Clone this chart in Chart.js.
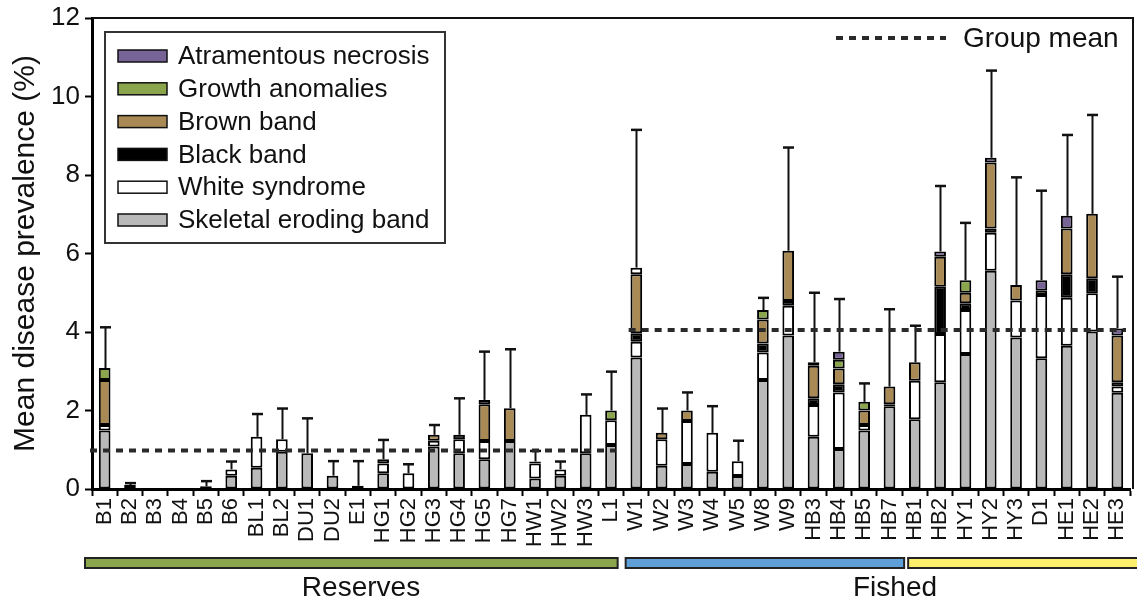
<!DOCTYPE html>
<html>
<head>
<meta charset="utf-8">
<script src="https://cdn.jsdelivr.net/npm/chart.js@4.4.1/dist/chart.umd.min.js"></script>
<style>
  html, body { margin: 0; padding: 0; background: #fff; }
  #wrap { width: 1137px; height: 602px; }
</style>
</head>
<body>
<div id="wrap"><canvas id="x-chart" width="1137" height="602"></canvas></div>
<script>
// sites, left to right
var sites = ["B1","B2","B3","B4","B5","B6","BL1","BL2","DU1","DU2","E1","HG1","HG2","HG3","HG4","HG5","HG7","HW1","HW2","HW3","L1",
             "W1","W2","W3","W4","W5","W8","W9","HB3","HB4","HB5","HB7",
             "HB1","HB2","HY1","HY2","HY3","D1","HE1","HE2","HE3"];

// prevalence (%) per disease, one value per site
var skeletal = [1.49,0,0,0,0,0.34,0.54,0.95,0.91,0.34,0,0.40,0,1.08,0.91,0.76,1.22,0.27,0.34,0.91,1.12,
                3.35,0.59,0.64,0.44,0.33,2.78,3.91,1.33,1.02,1.49,2.11,
                1.78,2.72,3.44,5.56,3.86,3.33,3.65,4.01,2.45];
var whiteSyn = [0.14,0.10,0,0,0,0.16,0.79,0.32,0,0,0,0.25,0.40,0.15,0.36,0.46,0,0.38,0.16,0.98,0.63,
                0.40,0.68,1.09,0.99,0.38,0.70,0.76,0.81,1.44,0.14,0.05,
                0.98,1.23,1.12,0.97,0.94,1.61,1.22,0.98,0.16];
var blackBand = [0,0,0,0,0.07,0,0,0,0,0,0.08,0,0,0,0.11,0,0,0.05,0,0,0,
                 0.22,0,0,0,0,0.23,0.12,0.17,0.21,0,0,
                 0,1.20,0.17,0.11,0,0,0.60,0.38,0.11];
var brownBand = [1.15,0,0,0,0,0,0,0,0,0,0,0.11,0,0.15,0,0.94,0.84,0,0,0,0,
                 1.50,0.16,0.27,0,0,0.61,1.28,0.83,0.40,0.37,0.45,
                 0.47,0.77,0.27,1.68,0.40,0.11,1.17,1.64,1.19];
var growth = [0.30,0,0,0,0,0,0,0,0,0,0,0,0,0,0,0,0,0,0,0,0.25,
              0,0,0,0,0,0.24,0,0.09,0.22,0.22,0,
              0,0,0.32,0,0,0,0,0,0];
var atramentous = [0,0,0,0,0,0,0,0,0,0,0,0,0,0,0,0.11,0,0,0,0,0,
                   0,0,0,0,0,0,0,0,0.21,0,0,
                   0,0.13,0,0.12,0,0.27,0.32,0,0.18];
// thin white cap on W1
var whiteTop = [0,0,0,0,0,0,0,0,0,0,0,0,0,0,0,0,0,0,0,0,0,
                0.17,0,0,0,0,0,0,0,0,0,0,
                0,0,0,0,0,0,0,0,0];

// top of the error bars (%)
var errTop = [4.12,0.15,0,0,0.20,0.70,1.91,2.05,1.80,0.71,0.71,1.25,0.63,1.63,2.31,3.50,3.56,0.97,0.70,2.41,2.99,
              9.15,2.05,2.46,2.11,1.23,4.87,8.70,5.00,4.84,2.69,4.58,
              4.16,7.72,6.78,10.66,7.94,7.60,9.02,9.53,5.41];

// groups
var groupNames = ["Reserves", "Fished"];
var groupFirst = [0, 21];
var groupLast = [20, 40];
var groupMeans = [0.98, 4.05];
var bandFirst = [0, 21, 32];
var bandLast = [20, 31, 40];
var bandColors = ["#8aa54b", "#5f9fd8", "#fdee6c"];

var yTicks = [0, 2, 4, 6, 8, 10, 12];

var FONT = "'Liberation Sans', Arial, Helvetica, sans-serif";

function nz(arr) { return arr.map(function (v) { return v > 0 ? v : null; }); }

var series = [
  { label: "Skeletal eroding band", data: skeletal, color: "#b9b9b9" },
  { label: "White syndrome", data: whiteSyn, color: "#ffffff" },
  { label: "Black band", data: blackBand, color: "#000000" },
  { label: "Brown band", data: brownBand, color: "#a98a55" },
  { label: "Growth anomalies", data: growth, color: "#8aa54b" },
  { label: "Atramentous necrosis", data: atramentous, color: "#776396" },
  { label: "", data: whiteTop, color: "#ffffff", hidden: true }
];

var datasets = series.map(function (s) {
  return {
    label: s.label,
    data: nz(s.data),
    backgroundColor: s.color,
    borderColor: "#000",
    borderWidth: 2,
    borderSkipped: false,
    barPercentage: 0.46,
    categoryPercentage: 1.0,
    noLegend: !!s.hidden
  };
});

var extras = {
  id: "extras",
  afterDatasetsDraw: function (chart) {
    var ctx = chart.ctx, x = chart.scales.x, y = chart.scales.y;
    var half = (x.getPixelForValue(1) - x.getPixelForValue(0)) / 2;
    ctx.save();
    // error bars
    ctx.strokeStyle = "#111";
    for (var i = 0; i < sites.length; i++) {
      if (!errTop[i]) continue;
      var tot = 0;
      series.forEach(function (s) { tot += s.data[i]; });
      var px = Math.round(x.getPixelForValue(i)) + 0.5;
      var yb = y.getPixelForValue(tot), yt = y.getPixelForValue(errTop[i]);
      ctx.lineWidth = 2;
      ctx.beginPath(); ctx.moveTo(px, yb); ctx.lineTo(px, yt); ctx.stroke();
      ctx.lineWidth = 2.5;
      ctx.beginPath(); ctx.moveTo(px - 5.5, yt); ctx.lineTo(px + 5.5, yt); ctx.stroke();
    }
    // group means
    ctx.strokeStyle = "#2a2a2a";
    ctx.lineWidth = 4;
    ctx.setLineDash([7, 6]);
    for (var g = 0; g < groupNames.length; g++) {
      var x0 = x.getPixelForValue(groupFirst[g]) - half + (g === 0 ? -2 : 5);
      var x1 = x.getPixelForValue(groupLast[g]) + half - (g === 0 ? 8 : 4);
      var gy = y.getPixelForValue(groupMeans[g]);
      ctx.beginPath(); ctx.moveTo(x0, gy); ctx.lineTo(x1, gy); ctx.stroke();
    }
    ctx.setLineDash([]);
    ctx.restore();
  },
  afterDraw: function (chart) {
    var ctx = chart.ctx, x = chart.scales.x, ca = chart.chartArea;
    var half = (x.getPixelForValue(1) - x.getPixelForValue(0)) / 2;
    ctx.save();
    // top and right frame
    ctx.strokeStyle = "#111";
    ctx.lineWidth = 2;
    ctx.beginPath();
    ctx.moveTo(ca.left, ca.top); ctx.lineTo(ca.right + 3, ca.top); ctx.lineTo(ca.right + 3, ca.bottom);
    ctx.stroke();

    // legend box
    ctx.lineWidth = 2;
    ctx.strokeStyle = "#333";
    ctx.strokeRect(105, 32, 340, 211);
    var items = datasets.filter(function (d) { return !d.noLegend; }).slice().reverse();
    ctx.font = "26px " + FONT;
    ctx.textBaseline = "middle";
    ctx.textAlign = "left";
    items.forEach(function (d, k) {
      var cy = 56 + k * 32.8;
      ctx.fillStyle = d.backgroundColor;
      ctx.fillRect(118, cy - 6, 49, 12);
      ctx.lineWidth = 1.5;
      ctx.strokeStyle = "#111";
      ctx.strokeRect(118, cy - 6, 49, 12);
      ctx.fillStyle = "#111";
      ctx.fillText(d.label, 178, cy + 1);
    });

    // group mean legend
    ctx.strokeStyle = "#2a2a2a";
    ctx.lineWidth = 4;
    ctx.setLineDash([7, 6]);
    ctx.beginPath(); ctx.moveTo(836, 38); ctx.lineTo(946, 38); ctx.stroke();
    ctx.setLineDash([]);
    ctx.font = "28px " + FONT;
    ctx.fillStyle = "#111";
    ctx.fillText("Group mean", 963, 39);

    // site group bands and names
    var startOff = [-7, 2, 6], endOff = [-6, 2, 0];
    for (var b = 0; b < bandColors.length; b++) {
      var bx0 = x.getPixelForValue(bandFirst[b]) - half + startOff[b];
      var bx1 = b === bandColors.length - 1 ? 1145 : x.getPixelForValue(bandLast[b]) + half + endOff[b];
      ctx.fillStyle = bandColors[b];
      ctx.fillRect(bx0, 558, bx1 - bx0, 10);
      ctx.lineWidth = 2;
      ctx.strokeStyle = "#222";
      ctx.strokeRect(bx0, 558, bx1 - bx0, 10);
    }
    ctx.font = "28px " + FONT;
    ctx.textAlign = "center";
    ctx.fillStyle = "#111";
    ctx.fillText(groupNames[0], 361, 588);
    ctx.fillText(groupNames[1], 895, 588);
    ctx.restore();
  }
};

new Chart(document.getElementById("x-chart"), {
  type: "bar",
  data: { labels: sites, datasets: datasets },
  options: {
    responsive: false,
    animation: false,
    layout: { padding: { left: 6, right: 7, top: 18, bottom: 0 } },
    plugins: {
      legend: { display: false },
      tooltip: { enabled: false }
    },
    scales: {
      x: {
        stacked: true,
        grid: { display: true, drawOnChartArea: false, drawTicks: true, tickLength: 7, tickWidth: 2, tickColor: "#000", offset: true },
        border: { display: true, color: "#000", width: 3 },
        ticks: {
          autoSkip: false, minRotation: 90, maxRotation: 90, padding: 2,
          color: "#111", font: { family: FONT, size: 22 }
        },
        afterFit: function (s) { s.height = 113; s.paddingLeft = 0; s.paddingRight = 0; }
      },
      y: {
        stacked: true,
        min: 0, max: 12,
        afterBuildTicks: function (s) { s.ticks = yTicks.map(function (v) { return { value: v }; }); },
        grid: { display: true, drawOnChartArea: false, drawTicks: true, tickLength: 7, tickWidth: 2, tickColor: "#000" },
        border: { display: true, color: "#000", width: 3 },
        ticks: { color: "#111", padding: 5, font: { family: FONT, size: 26 } },
        title: { display: true, text: "Mean disease prevalence (%)", color: "#111", padding: 2, font: { family: FONT, size: 30 } },
        afterFit: function (s) { s.width = 86; s.paddingTop = 0; s.paddingBottom = 0; }
      }
    }
  },
  plugins: [extras]
});
</script>
</body>
</html>
